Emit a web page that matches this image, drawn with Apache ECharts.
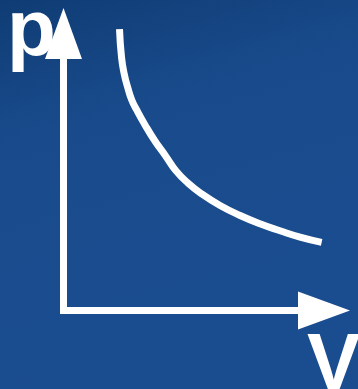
<!DOCTYPE html>
<html>
<head>
<meta charset="utf-8">
<style>
  html, body { margin: 0; padding: 0; }
  #chart { width: 358px; height: 389px; }
</style>
<script src="https://cdn.jsdelivr.net/npm/echarts@6/dist/echarts.min.js"></script>
</head>
<body>
<div id="chart"></div>
<script>
// Isotherm p–V curve: volume and pressure samples (arbitrary units)
const volume   = [2.15, 2.23, 2.34, 2.46, 2.62, 2.81, 3.13, 3.51, 3.92, 4.32, 4.78, 5.32, 6.01, 6.78, 7.54, 8.31, 9.08, 9.91];
const pressure = [10.16, 9.12, 8.50, 8.07, 7.60, 7.24, 6.70, 6.12, 5.58, 5.04, 4.60, 4.20, 3.79, 3.43, 3.13, 2.88, 2.65, 2.46];
const axisNames = { x: 'V', y: 'p' };

const curve = volume.map((v, i) => [v, pressure[i]]);

const chart = echarts.init(document.getElementById('chart'), null, { renderer: 'canvas' });

const axisCommon = {
  type: 'value',
  min: 0,
  max: 10,
  axisTick: { show: false },
  axisLabel: { show: false },
  splitLine: { show: false },
  axisLine: {
    show: true,
    onZero: false,
    symbol: ['none', 'triangle'],
    lineStyle: { color: '#ffffff', width: 7, cap: 'square' }
  }
};

chart.setOption({
  animation: false,
  backgroundColor: {
    type: 'linear', x: 0, y: 0, x2: 0.3, y2: 1,
    colorStops: [
      { offset: 0, color: '#0f3c74' },
      { offset: 0.35, color: '#194b8c' },
      { offset: 1, color: '#1a4d90' }
    ]
  },
  grid: { left: 63.5, right: 34, top: 33.5, bottom: 78.5 },
  xAxis: Object.assign({}, axisCommon, {
    axisLine: Object.assign({}, axisCommon.axisLine, { symbolSize: [38, 52] })
  }),
  yAxis: Object.assign({}, axisCommon, {
    axisLine: Object.assign({}, axisCommon.axisLine, { symbolSize: [37, 51] })
  }),
  series: [{
    type: 'line',
    data: curve,
    smooth: 0.5,
    symbol: 'none',
    clip: false,
    lineStyle: { color: '#ffffff', width: 7 }
  }],
  graphic: [
    {
      type: 'text', left: 7, top: -7, z: 10,
      style: { text: axisNames.y, fill: '#ffffff', font: 'bold 80px "Liberation Sans", Arial, sans-serif' }
    },
    {
      type: 'text', left: 307, top: 327, z: 10,
      style: { text: axisNames.x, fill: '#ffffff', font: 'bold 80px "Liberation Sans", Arial, sans-serif' }
    }
  ]
});
</script>
</body>
</html>
